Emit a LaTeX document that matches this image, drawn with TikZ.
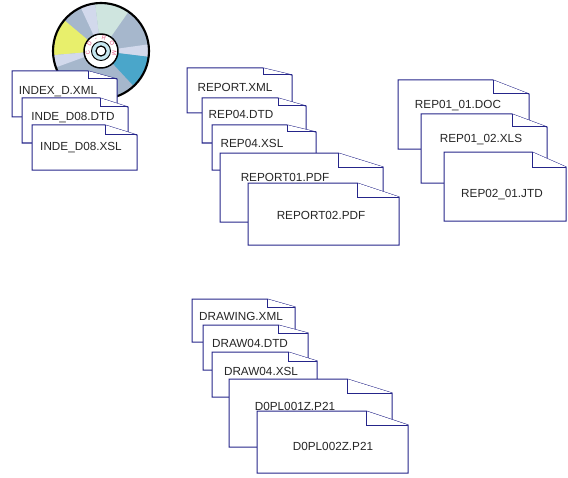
\documentclass[tikz,border=0pt]{standalone}
\usepackage{fontspec}
\setmainfont{Liberation Sans}
\usepackage{xcolor}
\usetikzlibrary{decorations.text}
\definecolor{SheetBlue}{HTML}{25258A}
\definecolor{DiscGray}{HTML}{A6B7CC}
\definecolor{DiscMint}{HTML}{CFE5DF}
\definecolor{DiscYellow}{HTML}{E8EF6C}
\definecolor{DiscTeal}{HTML}{4AA6CA}
\definecolor{DiscLight}{HTML}{D2D9EC}
\definecolor{HubBlue}{HTML}{C6E8F1}
\definecolor{LabelPink}{HTML}{E2507C}

\begin{document}
\begin{tikzpicture}[x=0.75pt,y=0.75pt,
        sheet/.style={draw=SheetBlue,fill=white,line width=0.75pt},
        fname/.style={font=\fontsize{8.8}{10}\selectfont,
                      text=black!85,inner sep=0pt}]
  \useasboundingbox (0,0) rectangle (568,-478);
  % CD-ROM disc
  \coordinate (disc) at (101,-51);
  \fill[DiscGray] (disc) circle[radius=48];
  \foreach \col/\sa/\ea in {DiscLight/97/115, DiscMint/55/97,
      DiscLight/-7/8, DiscTeal/-47/-7, DiscYellow/140/185,
      DiscLight/185/200}
    \fill[\col] (disc) -- ++(\sa:48) arc[start angle=\sa,end angle=\ea,radius=48] -- cycle;
  \draw[line width=1.6pt] (disc) circle[radius=48];
  \filldraw[fill=white,line width=1.1pt] (disc) circle[radius=17];
  \path[decorate,decoration={text along path,text align=fit to path,
        text={|\fontsize{4.3}{5}\selectfont\color{LabelPink}|CD-ROM}}]
    (disc) ++(200:11.5) arc[start angle=200,end angle=-20,radius=11.5];
  \filldraw[fill=HubBlue,line width=0.7pt] (disc) circle[radius=9.5];
  \filldraw[fill=white,line width=0.9pt] (disc) circle[radius=5];
  % file sheets: name/left/top/right/bottom/fold x/fold y/label x/label y/label
  \foreach \id/\xa/\ya/\xb/\yb/\xc/\yc/\xd/\yd/\txt in {
      idxa/12/71/117/117/88/79/58/92/INDEX\_D.XML,
      idxb/22/98/128/143/100/107/73/118/INDE\_D08.DTD,
      idxc/32/125/137/170/105/135/81/148/INDE\_D08.XSL,
      repa/187/68/292/113/263/75/235/87/REPORT.XML,
      repb/202/98/306/143/278/106/241/114/REP04.DTD,
      repc/212/125/316/170/287/132/252/143/REP04.XSL,
      repd/220/153/383/222/338/167/285/177/REPORT01.PDF,
      repe/248/183/399/245/357/197/321/215/REPORT02.PDF,
      rfxa/398/80/529/149/493/94/458/106/REP01\_01.DOC,
      rfxb/421/114/547/183/512/127/481/140/REP01\_02.XLS,
      rfxc/444/152/566/221/532/167/502/195/REP02\_01.JTD,
      drwa/192/299/295/342/267/307/241/316/DRAWING.XML,
      drwb/203/325/308/370/278/333/250/343/DRAW04.DTD,
      drwc/212/352/317/397/288/361/261/371/DRAW04.XSL,
      drwd/229/379/392/447/347/393/295/406/D0PL001Z.P21,
      drwe/257/411/408/473/366/425/333/446/D0PL002Z.P21}
  {
    \draw[sheet] (\xa,-\ya) -- (\xc,-\ya) -- (\xb,-\yc) -- (\xb,-\yb)
      -- (\xa,-\yb) -- cycle;
    \draw[sheet] (\xc,-\ya) |- (\xb,-\yc);
    \node[fname] (\id) at (\xd,-\yd) {\txt};
  }
\end{tikzpicture}
\end{document}
